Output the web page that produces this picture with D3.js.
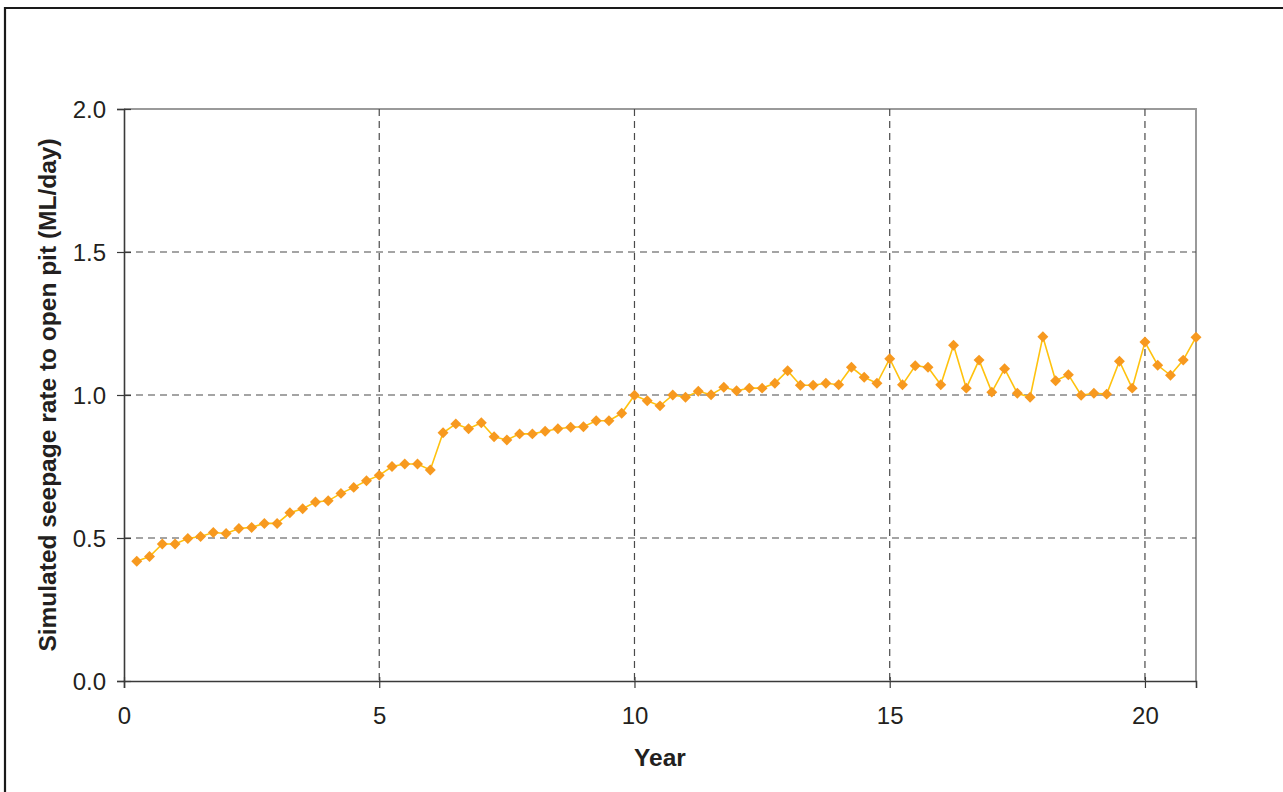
<!DOCTYPE html>
<html>
<head>
<meta charset="utf-8">
<script src="https://cdn.jsdelivr.net/npm/d3@7/dist/d3.min.js"></script>
<style>
  html, body { margin: 0; padding: 0; background: #fff; }
  svg { display: block; font-family: "Liberation Sans", Arial, sans-serif; }
</style>
</head>
<body>
<svg id="chart" width="1283" height="792"></svg>
<script>
// Quarterly simulation times (years)
const years = [
  0.25, 0.5, 0.75, 1, 1.25, 1.5, 1.75, 2, 2.25, 2.5, 2.75, 3, 3.25, 3.5, 3.75, 4, 4.25, 4.5, 4.75, 5,
  5.25, 5.5, 5.75, 6, 6.25, 6.5, 6.75, 7, 7.25, 7.5, 7.75, 8, 8.25, 8.5, 8.75, 9, 9.25, 9.5, 9.75, 10,
  10.25, 10.5, 10.75, 11, 11.25, 11.5, 11.75, 12, 12.25, 12.5, 12.75, 13, 13.25, 13.5, 13.75, 14, 14.25, 14.5, 14.75, 15,
  15.25, 15.5, 15.75, 16, 16.25, 16.5, 16.75, 17, 17.25, 17.5, 17.75, 18, 18.25, 18.5, 18.75, 19, 19.25, 19.5, 19.75, 20,
  20.25, 20.5, 20.75, 21
];

// Simulated seepage rate to the open pit (ML/day)
const seepage = [
  0.419, 0.435, 0.479, 0.479, 0.498, 0.505, 0.519, 0.516, 0.533, 0.537, 0.551, 0.551, 0.588, 0.602, 0.626, 0.630, 0.656, 0.677, 0.700, 0.719,
  0.750, 0.759, 0.759, 0.738, 0.868, 0.899, 0.882, 0.903, 0.854, 0.843, 0.864, 0.864, 0.873, 0.882, 0.887, 0.889, 0.910, 0.910, 0.936, 0.999,
  0.980, 0.962, 1.000, 0.992, 1.013, 1.001, 1.027, 1.015, 1.024, 1.024, 1.041, 1.085, 1.034, 1.034, 1.041, 1.036, 1.097, 1.062, 1.041, 1.127,
  1.036, 1.102, 1.097, 1.036, 1.174, 1.024, 1.122, 1.010, 1.092, 1.006, 0.992, 1.204, 1.050, 1.071, 0.999, 1.006, 1.003, 1.118, 1.024, 1.185,
  1.104, 1.069, 1.122, 1.202
];

const xTicks = [0, 5, 10, 15, 20];
const yTicks = [0.0, 0.5, 1.0, 1.5, 2.0];
const xTitle = "Year";
const yTitle = "Simulated seepage rate to open pit (ML/day)";

const svg = d3.select("#chart");
const W = 1283, H = 792;
const plot = { left: 124, right: 1196, top: 109, bottom: 681 };

const x = d3.scaleLinear().domain([0, 21]).range([plot.left, plot.right]);
const y = d3.scaleLinear().domain([0, 2]).range([plot.bottom, plot.top]);

const textColor = "#231f20";

// Outer frame (top and left edges)
svg.append("path")
  .attr("d", `M5,${H} L5,8 L${W},8`)
  .attr("fill", "none")
  .attr("stroke", "#1a1a1a")
  .attr("stroke-width", 2.2);

// Plot area border (top and right)
svg.append("path")
  .attr("d", `M${plot.left},${plot.top} L${plot.right},${plot.top} L${plot.right},${plot.bottom}`)
  .attr("fill", "none")
  .attr("stroke", "#9a9a9a")
  .attr("stroke-width", 2);

// Dashed gridlines
const grid = svg.append("g").attr("stroke", "#4a4a4a").attr("stroke-width", 1.2)
  .attr("stroke-dasharray", "7,5");
grid.selectAll("line.h")
  .data(yTicks.filter(d => d > 0 && d < 2))
  .join("line")
  .attr("class", "h")
  .attr("x1", plot.left).attr("x2", plot.right)
  .attr("y1", d => y(d)).attr("y2", d => y(d));
grid.selectAll("line.v")
  .data(xTicks.filter(d => d > 0))
  .join("line")
  .attr("class", "v")
  .attr("y1", plot.top).attr("y2", plot.bottom)
  .attr("x1", d => x(d)).attr("x2", d => x(d));

// Axes
const fontSize = 24;
const titleSize = 24.5;
const yAxis = svg.append("g")
  .attr("transform", `translate(${plot.left},0)`)
  .call(d3.axisLeft(y).tickValues(yTicks).tickFormat(d3.format(".1f")).tickSize(7).tickPadding(11));
yAxis.selectAll(".tick line").attr("x1", 7);
yAxis.selectAll(".tick text").attr("dy", "0.36em");

const xAxis = svg.append("g")
  .attr("transform", `translate(0,${plot.bottom})`)
  .call(d3.axisBottom(x).tickValues(xTicks).tickFormat(d3.format("d")).tickSize(7).tickPadding(19));
xAxis.selectAll(".tick line").attr("y1", -4);

[yAxis, xAxis].forEach(g => {
  g.select(".domain").attr("stroke", "#3a3a3a").attr("stroke-width", 1.6);
  g.selectAll(".tick line").attr("stroke", "#3a3a3a").attr("stroke-width", 1.2);
  g.selectAll(".tick text")
    .attr("fill", textColor)
    .attr("font-size", fontSize)
    .attr("font-family", "Liberation Sans, Arial, sans-serif");
});

// Axis titles
svg.append("text")
  .attr("x", x(10.5)).attr("y", 766)
  .attr("text-anchor", "middle")
  .attr("font-size", titleSize).attr("font-weight", "bold")
  .attr("fill", textColor)
  .text(xTitle);

svg.append("text")
  .attr("transform", `translate(56,${(plot.top + plot.bottom) / 2}) rotate(-90)`)
  .attr("text-anchor", "middle")
  .attr("font-size", titleSize).attr("font-weight", "bold")
  .attr("fill", textColor)
  .text(yTitle);

// Series line and diamond markers
const pts = years.map((t, i) => ({ t, v: seepage[i] }));

svg.append("path")
  .datum(pts)
  .attr("fill", "none")
  .attr("stroke", "#ffc20e")
  .attr("stroke-width", 1.6)
  .attr("d", d3.line().x(d => x(d.t)).y(d => y(d.v)));

const diamond = d3.symbol().type(d3.symbolSquare).size(60);
svg.append("g")
  .selectAll("path")
  .data(pts)
  .join("path")
  .attr("d", diamond)
  .attr("fill", "#f7991f")
  .attr("transform", d => `translate(${x(d.t)},${y(d.v)}) rotate(45)`);
</script>
</body>
</html>
